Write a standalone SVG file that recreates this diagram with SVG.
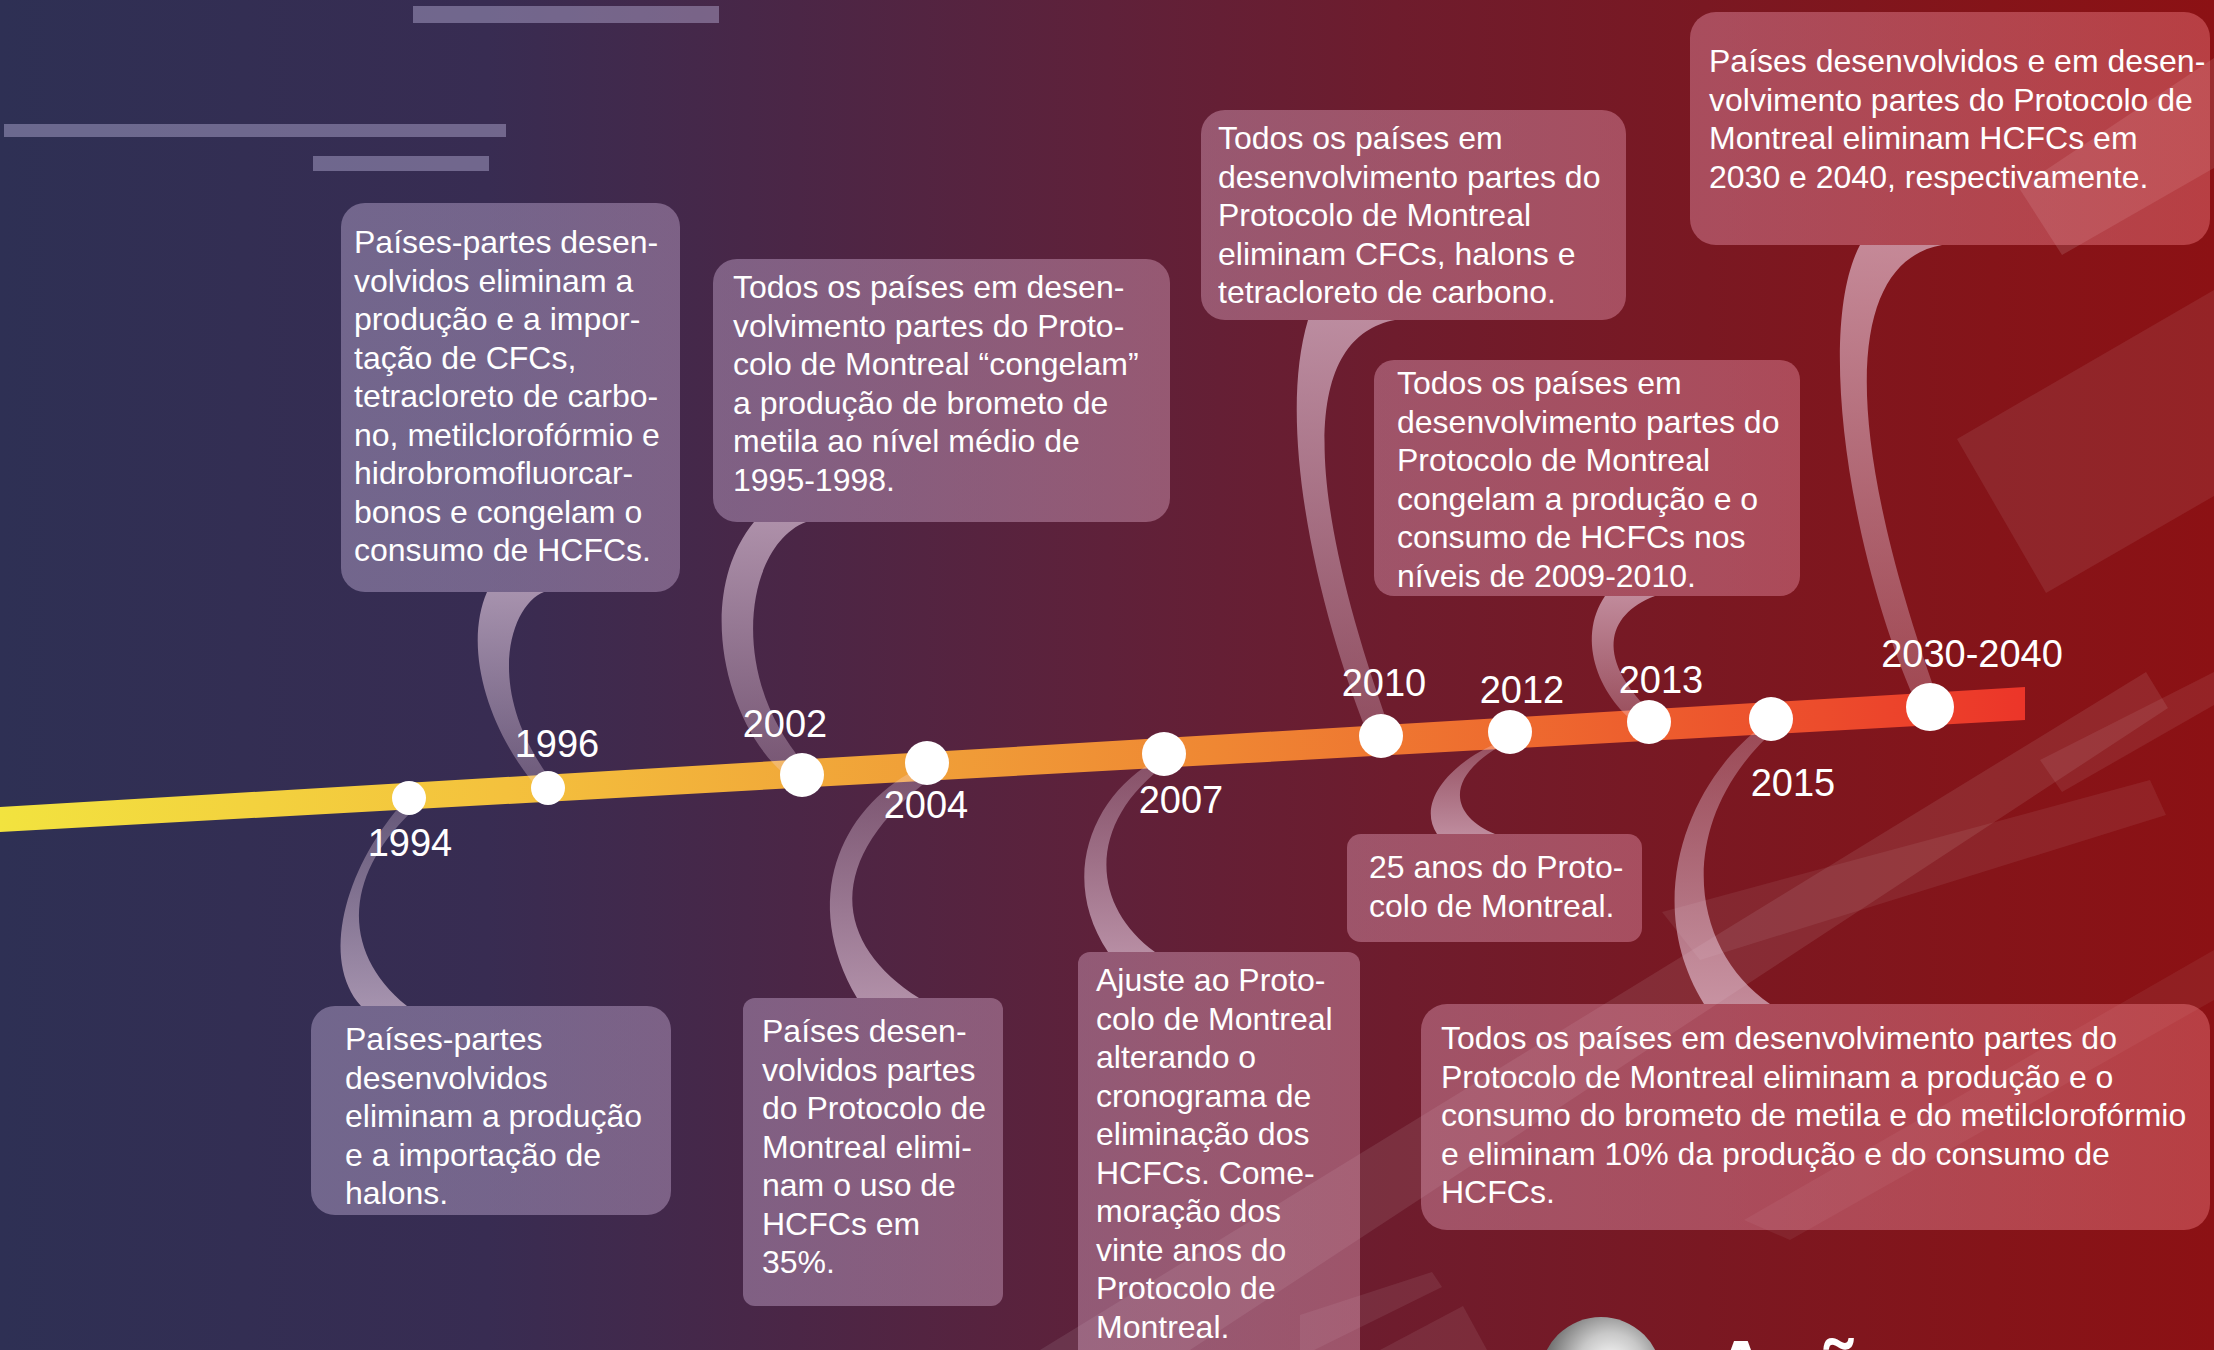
<svg xmlns="http://www.w3.org/2000/svg" width="2214" height="1350" viewBox="0 0 2214 1350">
<defs>
<linearGradient id="bg" x1="0" y1="0" x2="2214" y2="0" gradientUnits="userSpaceOnUse">
<stop offset="0" stop-color="#2e3054"/>
<stop offset="0.22" stop-color="#382c52"/>
<stop offset="0.36" stop-color="#4b2646"/>
<stop offset="0.5" stop-color="#5f213a"/>
<stop offset="0.63" stop-color="#6e1c2d"/>
<stop offset="0.77" stop-color="#7a1822"/>
<stop offset="0.9" stop-color="#851419"/>
<stop offset="1" stop-color="#8c1114"/>
</linearGradient>
<linearGradient id="bar" x1="0" y1="0" x2="2025" y2="0" gradientUnits="userSpaceOnUse">
<stop offset="0" stop-color="#f2e33f"/>
<stop offset="0.25" stop-color="#f4c13d"/>
<stop offset="0.45" stop-color="#f0a038"/>
<stop offset="0.6" stop-color="#ef8733"/>
<stop offset="0.75" stop-color="#ee6a2f"/>
<stop offset="0.9" stop-color="#ec4c2c"/>
<stop offset="1" stop-color="#ec3529"/>
</linearGradient>
<linearGradient id="boxfill" x1="0" y1="0" x2="2214" y2="0" gradientUnits="userSpaceOnUse">
<stop offset="0" stop-color="#d0c8f0"/>
<stop offset="0.35" stop-color="#dcbce4"/>
<stop offset="0.55" stop-color="#ecb4d0"/>
<stop offset="0.78" stop-color="#f6a2bc"/>
<stop offset="1" stop-color="#ff8a90"/>
</linearGradient>
<linearGradient id="ribUp" x1="0" y1="0" x2="0" y2="1">
<stop offset="0" stop-color="#f6dcf0" stop-opacity="0.58"/>
<stop offset="1" stop-color="#f6dcf0" stop-opacity="0.25"/>
</linearGradient>
<linearGradient id="ribDown" x1="0" y1="0" x2="0" y2="1">
<stop offset="0" stop-color="#f6dcf0" stop-opacity="0.25"/>
<stop offset="1" stop-color="#f6dcf0" stop-opacity="0.58"/>
</linearGradient>
<radialGradient id="sphere" cx="0.58" cy="0.4" r="0.6">
<stop offset="0" stop-color="#ffffff"/>
<stop offset="0.45" stop-color="#c8c8c8"/>
<stop offset="1" stop-color="#5a5a5a"/>
</radialGradient>
<style>
.box{fill:url(#boxfill);fill-opacity:0.38}
.txt{font-family:"Liberation Sans",Arial,sans-serif;font-size:32px;fill:#fff}
.yr{font-family:"Liberation Sans",Arial,sans-serif;font-size:38px;fill:#fff;text-anchor:middle}
.dot{fill:#fff}
.stripe{fill:#fff}
.deco{fill:#d0c8f0;fill-opacity:0.38}
</style>
</defs>

<rect x="0" y="0" width="2214" height="1350" fill="url(#bg)"/>

<g id="background-stripes">
<polygon class="stripe" fill-opacity="0.12" points="2019,188 2062,255 2214,168 2214,58"/>
<polygon class="stripe" fill-opacity="0.08" points="1957,439 2046,593 2214,496 2214,290"/>
<polygon class="stripe" fill-opacity="0.08" points="2040,760 2062,792 2214,705 2214,672"/>
<polygon class="stripe" fill-opacity="0.09" points="1040,1350 2146,672 2168,708 1190,1350"/>
<polygon class="stripe" fill-opacity="0.07" points="1662,912 2150,780 2166,815 1700,960"/>
<polygon class="stripe" fill-opacity="0.08" points="1300,1315 1432,1272 1442,1287 1300,1357"/>
<polygon class="stripe" fill-opacity="0.08" points="1463,1306 1487,1350 1380,1350"/>
<polygon class="stripe" fill-opacity="0.06" points="1744,1220 2214,950 2214,1000 1790,1240"/>
</g>

<g id="top-bars">
<rect class="deco" x="413" y="6" width="306" height="17"/>
<rect class="deco" x="4" y="124" width="502" height="13"/>
<rect class="deco" x="313" y="156" width="176" height="15"/>
</g>

<polygon id="timeline" points="0,807 2025,687 2025,720 0,832" fill="url(#bar)"/>

<g id="connectors">
<path fill="url(#ribDown)" d="M 400,806 C 345,870 320,960 361,1006 L 407,1006 C 338,950 345,870 418,806 Z"/>
<path fill="url(#ribUp)" d="M 541,792 C 490,735 462,650 487,592 L 544,592 C 510,605 482,690 554,784 Z"/>
<path fill="url(#ribUp)" d="M 795,782 C 730,740 690,600 754,522 L 806,522 C 745,545 725,680 810,770 Z"/>
<path fill="url(#ribDown)" d="M 915,770 C 840,810 800,900 857,998 L 919,998 C 835,945 820,860 935,775 Z"/>
<path fill="url(#ribDown)" d="M 1152,762 C 1090,800 1060,880 1108,952 L 1155,952 C 1090,905 1085,820 1172,760 Z"/>
<path fill="url(#ribUp)" d="M 1372,745 C 1320,620 1275,430 1308,320 L 1395,320 C 1315,335 1290,450 1390,730 Z"/>
<path fill="url(#ribDown)" d="M 1500,742 C 1455,760 1415,800 1437,834 L 1495,834 C 1450,815 1440,775 1515,738 Z"/>
<path fill="url(#ribUp)" d="M 1642,728 C 1600,700 1575,640 1605,596 L 1655,596 C 1605,615 1595,660 1655,716 Z"/>
<path fill="url(#ribDown)" d="M 1762,726 C 1690,780 1640,900 1704,1004 L 1770,1004 C 1690,950 1670,820 1780,725 Z"/>
<path fill="url(#ribUp)" d="M 1920,712 C 1850,560 1815,330 1860,245 L 1942,245 C 1855,260 1830,400 1940,705 Z"/>
</g>

<g id="n1994">
<rect class="box" x="311" y="1006" width="360" height="209" rx="24"/>
<text class="txt" x="345" y="1050"><tspan x="345">Países-partes</tspan><tspan x="345" dy="38.5">desenvolvidos</tspan><tspan x="345" dy="38.5">eliminam a produção</tspan><tspan x="345" dy="38.5">e a importação de</tspan><tspan x="345" dy="38.5">halons.</tspan></text>
<circle class="dot" cx="409" cy="798" r="17"/>
<text class="yr" x="410" y="856">1994</text>
</g>

<g id="n1996">
<rect class="box" x="341" y="203" width="339" height="389" rx="24"/>
<text class="txt" x="354" y="253"><tspan x="354">Países-partes desen-</tspan><tspan x="354" dy="38.5">volvidos eliminam a</tspan><tspan x="354" dy="38.5">produção e a impor-</tspan><tspan x="354" dy="38.5">tação de CFCs,</tspan><tspan x="354" dy="38.5">tetracloreto de carbo-</tspan><tspan x="354" dy="38.5">no, metilclorofórmio e</tspan><tspan x="354" dy="38.5">hidrobromofluorcar-</tspan><tspan x="354" dy="38.5">bonos e congelam o</tspan><tspan x="354" dy="38.5">consumo de HCFCs.</tspan></text>
<circle class="dot" cx="548" cy="788" r="17"/>
<text class="yr" x="557" y="757">1996</text>
</g>

<g id="n2002">
<rect class="box" x="713" y="259" width="457" height="263" rx="24"/>
<text class="txt" x="733" y="298"><tspan x="733">Todos os países em desen-</tspan><tspan x="733" dy="38.5">volvimento partes do Proto-</tspan><tspan x="733" dy="38.5">colo de Montreal “congelam”</tspan><tspan x="733" dy="38.5">a produção de brometo de</tspan><tspan x="733" dy="38.5">metila ao nível médio de</tspan><tspan x="733" dy="38.5">1995-1998.</tspan></text>
<circle class="dot" cx="802" cy="775" r="22"/>
<text class="yr" x="785" y="737">2002</text>
</g>

<g id="n2004">
<rect class="box" x="743" y="998" width="260" height="308" rx="12"/>
<text class="txt" x="762" y="1042"><tspan x="762">Países desen-</tspan><tspan x="762" dy="38.5">volvidos partes</tspan><tspan x="762" dy="38.5">do Protocolo de</tspan><tspan x="762" dy="38.5">Montreal elimi-</tspan><tspan x="762" dy="38.5">nam o uso de</tspan><tspan x="762" dy="38.5">HCFCs em</tspan><tspan x="762" dy="38.5">35%.</tspan></text>
<circle class="dot" cx="927" cy="763" r="22"/>
<text class="yr" x="926" y="818">2004</text>
</g>

<g id="n2007">
<rect class="box" x="1078" y="952" width="282" height="430" rx="12"/>
<text class="txt" x="1096" y="991"><tspan x="1096">Ajuste ao Proto-</tspan><tspan x="1096" dy="38.5">colo de Montreal</tspan><tspan x="1096" dy="38.5">alterando o</tspan><tspan x="1096" dy="38.5">cronograma de</tspan><tspan x="1096" dy="38.5">eliminação dos</tspan><tspan x="1096" dy="38.5">HCFCs. Come-</tspan><tspan x="1096" dy="38.5">moração dos</tspan><tspan x="1096" dy="38.5">vinte anos do</tspan><tspan x="1096" dy="38.5">Protocolo de</tspan><tspan x="1096" dy="38.5">Montreal.</tspan></text>
<circle class="dot" cx="1164" cy="754" r="22"/>
<text class="yr" x="1181" y="813">2007</text>
</g>

<g id="n2010">
<rect class="box" x="1201" y="110" width="425" height="210" rx="24"/>
<text class="txt" x="1218" y="149"><tspan x="1218">Todos os países em</tspan><tspan x="1218" dy="38.5">desenvolvimento partes do</tspan><tspan x="1218" dy="38.5">Protocolo de Montreal</tspan><tspan x="1218" dy="38.5">eliminam CFCs, halons e</tspan><tspan x="1218" dy="38.5">tetracloreto de carbono.</tspan></text>
<circle class="dot" cx="1381" cy="736" r="22"/>
<text class="yr" x="1384" y="696">2010</text>
</g>

<g id="n2012">
<rect class="box" x="1347" y="834" width="295" height="108" rx="14"/>
<text class="txt" x="1369" y="878"><tspan x="1369">25 anos do Proto-</tspan><tspan x="1369" dy="38.5">colo de Montreal.</tspan></text>
<circle class="dot" cx="1510" cy="732" r="22"/>
<text class="yr" x="1522" y="703">2012</text>
</g>

<g id="n2013">
<rect class="box" x="1374" y="360" width="426" height="236" rx="20"/>
<text class="txt" x="1397" y="394"><tspan x="1397">Todos os países em</tspan><tspan x="1397" dy="38.5">desenvolvimento partes do</tspan><tspan x="1397" dy="38.5">Protocolo de Montreal</tspan><tspan x="1397" dy="38.5">congelam a produção e o</tspan><tspan x="1397" dy="38.5">consumo de HCFCs nos</tspan><tspan x="1397" dy="38.5">níveis de 2009-2010.</tspan></text>
<circle class="dot" cx="1649" cy="722" r="22"/>
<text class="yr" x="1661" y="693">2013</text>
</g>

<g id="n2015">
<rect class="box" x="1421" y="1004" width="789" height="226" rx="26"/>
<text class="txt" x="1441" y="1049"><tspan x="1441">Todos os países em desenvolvimento partes do</tspan><tspan x="1441" dy="38.5">Protocolo de Montreal eliminam a produção e o</tspan><tspan x="1441" dy="38.5">consumo do brometo de metila e do metilclorofórmio</tspan><tspan x="1441" dy="38.5">e eliminam 10% da produção e do consumo de</tspan><tspan x="1441" dy="38.5">HCFCs.</tspan></text>
<circle class="dot" cx="1771" cy="719" r="22"/>
<text class="yr" x="1793" y="796">2015</text>
</g>

<g id="n2030">
<rect class="box" x="1690" y="12" width="520" height="233" rx="26"/>
<text class="txt" x="1709" y="72"><tspan x="1709">Países desenvolvidos e em desen-</tspan><tspan x="1709" dy="38.5">volvimento partes do Protocolo de</tspan><tspan x="1709" dy="38.5">Montreal eliminam HCFCs em</tspan><tspan x="1709" dy="38.5">2030 e 2040, respectivamente.</tspan></text>
<circle class="dot" cx="1930" cy="707" r="24"/>
<text class="yr" x="1972" y="667">2030-2040</text>
</g>

<g id="footer">
<circle cx="1601" cy="1378" r="61" fill="url(#sphere)"/>
<text x="1712" y="1396" font-family="Liberation Sans, Arial, sans-serif" font-size="80" font-weight="bold" fill="#fff">Ações</text>
</g>
</svg>
